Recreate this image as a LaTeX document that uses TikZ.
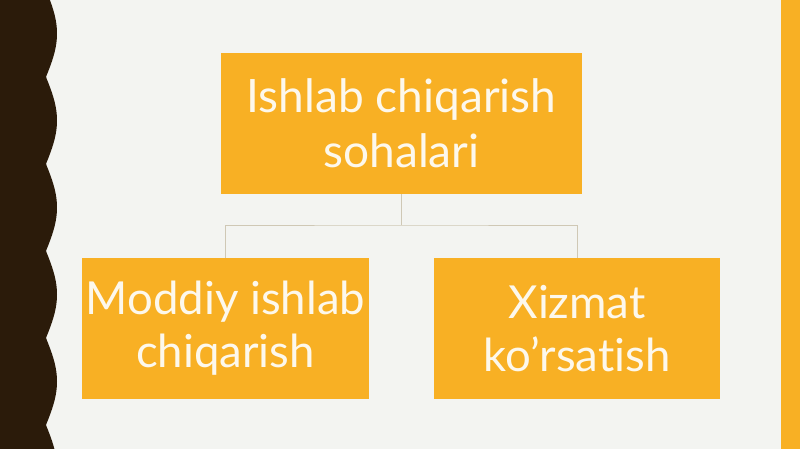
\documentclass[tikz,border=0pt]{standalone}
\usepackage{fontspec}
\setmainfont{Lato}[Ligatures=NoCommon]
\definecolor{bg}{HTML}{F3F4F1}
\definecolor{boxor}{HTML}{F8B024}
\definecolor{darkb}{HTML}{2B1B0A}
\definecolor{conn}{HTML}{CFC8B5}
\definecolor{txt}{HTML}{FDF8EC}
\tikzset{
  orbox/.style={fill=boxor, draw=none, inner sep=0pt, align=center, text=txt},
  connline/.style={draw=conn, line width=1pt}
}
\begin{document}
\begin{tikzpicture}[x=1pt,y=-1pt]
\useasboundingbox (0,0) rectangle (800,449);
\fill[bg] (0,0) rectangle (800,449);
% right orange strip
\fill[boxor] (781,0) rectangle (800,449);
% wavy left border
\fill[darkb] (0,0) -- plot[domain=0:449, samples=300, variable=\t] ({46+11*abs(sin((\t+10)/87*180))}, {\t}) -- (0,449) -- cycle;
% boxes
\node[orbox, minimum width=361pt, minimum height=141pt, font=\fontsize{46}{55}\selectfont] (top) at (401.5,123.5) {Ishlab chiqarish\\sohalari};
\node[orbox, minimum width=287pt, minimum height=141pt, font=\fontsize{45.5}{53}\selectfont] (left) at (225.5,328.5) {Moddiy ishlab\\chiqarish};
\node[orbox, minimum width=286pt, minimum height=141pt, font=\fontsize{45.5}{53}\selectfont] (right) at (577,328.5) {Xizmat\\ko’rsatish};
\coordinate (mid) at (401.5,225);
\draw[connline] (top.south) -- (mid);
\draw[connline] (left.north) |- (mid) -| (right.north);
\end{tikzpicture}
\end{document}
